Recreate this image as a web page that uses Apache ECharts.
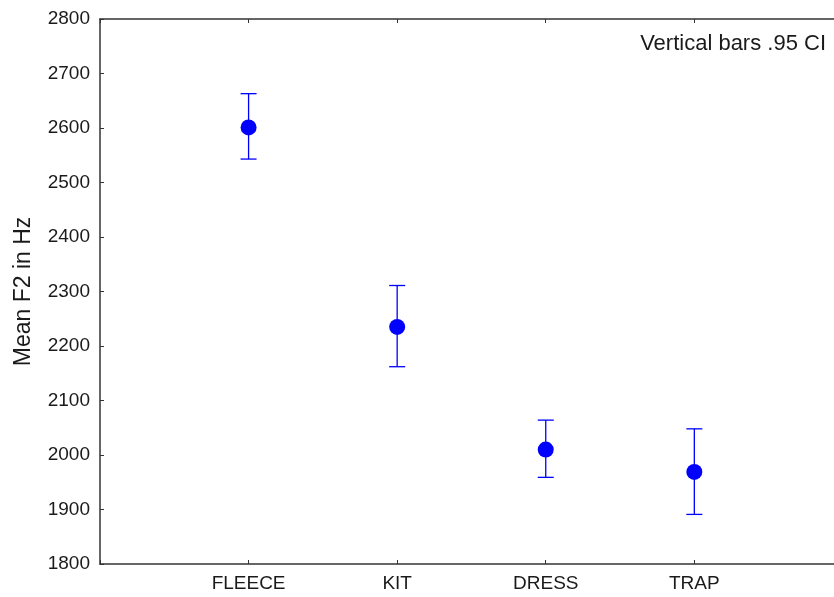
<html lang="en">
  <head>
    <meta charset="utf-8" />
    <title>Mean F2 in Hz</title>
    <script src="https://cdn.jsdelivr.net/npm/echarts@6/dist/echarts.min.js"></script>
    <style>
      body { margin: 0; background: #fff; }
    </style>
  </head>
  <body>
    <div id="main" style="width: 834px;height:597px;"></div>
    <script type="text/javascript">
      // data
      var categories = ['FLEECE', 'KIT', 'DRESS', 'TRAP'];
      var means = [2601, 2235, 2010, 1969];
      var upper = [2663, 2311, 2064, 2048];
      var lower = [2543, 2162, 1959, 1891];
      var yTicks = [1800, 1900, 2000, 2100, 2200, 2300, 2400, 2500, 2600, 2700, 2800];

      var font = 'Liberation Sans, Arial, sans-serif';
      var axisColor = '#333';
      var textColor = '#1a1a1a';
      var blue = '#0000ff';

      var pointData = means.map(function (m, i) { return [i + 1, m]; });
      var barData = means.map(function (m, i) { return [i + 1, lower[i], upper[i]]; });

      var chartDom = document.getElementById('main');
      var myChart = echarts.init(chartDom);
      var option = {
        animation: false,
        grid: {
          left: 100,
          top: 19,
          right: 0,
          bottom: 33
        },
        xAxis: [
          {
            type: 'value',
            min: 0,
            max: 4.94,
            interval: 1,
            position: 'bottom',
            splitLine: { show: false },
            axisLine: { lineStyle: { color: axisColor, width: 1.5 } },
            axisTick: { inside: true, length: 4, lineStyle: { color: axisColor } },
            axisLabel: {
              fontFamily: font,
              fontSize: 19,
              color: textColor,
              margin: 10,
              showMaxLabel: false,
              formatter: function (v) { return categories[v - 1] || ''; }
            }
          },
          {
            type: 'value',
            min: 0,
            max: 4.94,
            interval: 1,
            position: 'top',
            splitLine: { show: false },
            axisLine: { lineStyle: { color: axisColor, width: 1.5 } },
            axisTick: { inside: true, length: 4, lineStyle: { color: axisColor } },
            axisLabel: { show: false }
          }
        ],
        yAxis: {
          type: 'value',
          min: yTicks[0],
          max: yTicks[yTicks.length - 1],
          interval: 100,
          name: 'Mean F2 in Hz',
          nameLocation: 'middle',
          nameGap: 65,
          nameTextStyle: { fontFamily: font, fontSize: 23, color: textColor },
          splitLine: { show: false },
          axisLine: { show: true, lineStyle: { color: axisColor, width: 1.5 } },
          axisTick: { inside: true, length: 4, lineStyle: { color: axisColor } },
          axisLabel: {
            fontFamily: font,
            fontSize: 19,
            color: textColor,
            margin: 10,
            formatter: function (v) { return String(v); }
          }
        },
        graphic: [
          {
            type: 'text',
            right: 8,
            top: 33,
            style: {
              text: 'Vertical bars .95 CI',
              font: '22px ' + font,
              fill: textColor
            }
          }
        ],
        series: [
          {
            type: 'custom',
            xAxisIndex: 0,
            data: barData,
            renderItem: function (params, api) {
              var x = api.value(0);
              var lo = api.coord([x, api.value(1)]);
              var hi = api.coord([x, api.value(2)]);
              var cap = 8;
              var style = { stroke: blue, lineWidth: 1.3 };
              return {
                type: 'group',
                children: [
                  { type: 'line', shape: { x1: hi[0], y1: hi[1], x2: lo[0], y2: lo[1] }, style: style },
                  { type: 'line', shape: { x1: hi[0] - cap, y1: hi[1], x2: hi[0] + cap, y2: hi[1] }, style: style },
                  { type: 'line', shape: { x1: lo[0] - cap, y1: lo[1], x2: lo[0] + cap, y2: lo[1] }, style: style }
                ]
              };
            }
          },
          {
            type: 'scatter',
            xAxisIndex: 0,
            data: pointData,
            symbol: 'circle',
            symbolSize: 16,
            itemStyle: { color: blue, opacity: 1 },
            z: 5
          }
        ]
      };

      myChart.setOption(option);
    </script>
  </body>
</html>
